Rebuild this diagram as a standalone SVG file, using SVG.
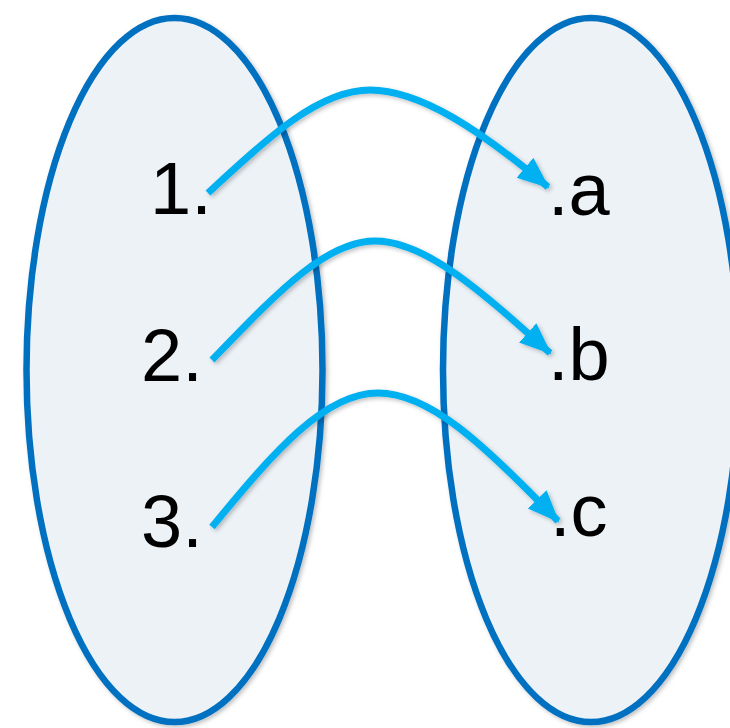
<svg xmlns="http://www.w3.org/2000/svg" width="730" height="728" viewBox="0 0 730 728">
<style>
.set{fill:#EDF2F7;stroke:#0070C0;stroke-width:6.5}
.lbl{font-family:"Liberation Sans",Arial,sans-serif;font-size:74px;fill:#000}
.arr{fill:none;stroke:#00B0F0;stroke-width:7}
</style>
<defs>
<filter id="sh" x="-10%" y="-10%" width="120%" height="120%">
<feDropShadow dx="2" dy="2" stdDeviation="2" flood-color="#000" flood-opacity="0.25"/>
</filter>
<marker id="ah" markerUnits="userSpaceOnUse" markerWidth="34" markerHeight="34" viewBox="0 0 34 34" refX="30" refY="17" orient="auto">
<path d="M0,4 L32,17 L0,30 Z" fill="#00B0F0"/>
</marker>
</defs>
<g id="setA" filter="url(#sh)">
<ellipse class="set" cx="174.5" cy="370" rx="148" ry="352"/>
</g>
<g id="setB" filter="url(#sh)">
<ellipse class="set" cx="591" cy="370" rx="148" ry="352"/>
</g>
<g id="n1"><text class="lbl" x="150" y="214">1.</text></g>
<g id="n2"><text class="lbl" x="141" y="381">2.</text></g>
<g id="n3"><text class="lbl" x="141" y="547">3.</text></g>
<g id="na"><text class="lbl" x="548" y="215">.a</text></g>
<g id="nb"><text class="lbl" x="548" y="380">.b</text></g>
<g id="nc"><text class="lbl" x="550" y="536">.c</text></g>
<g id="connectors" filter="url(#sh)">
<path class="arr" marker-end="url(#ah)" d="M208,193 C270,135 320,90 370,90 C420,90 480,130 548,187"/>
<path class="arr" marker-end="url(#ah)" d="M212,360 C275,295 325,241 375,241 C425,241 480,290 550,353"/>
<path class="arr" marker-end="url(#ah)" d="M212,527 C275,450 325,393 378,393 C428,393 480,440 558,521"/>
</g>
</svg>
